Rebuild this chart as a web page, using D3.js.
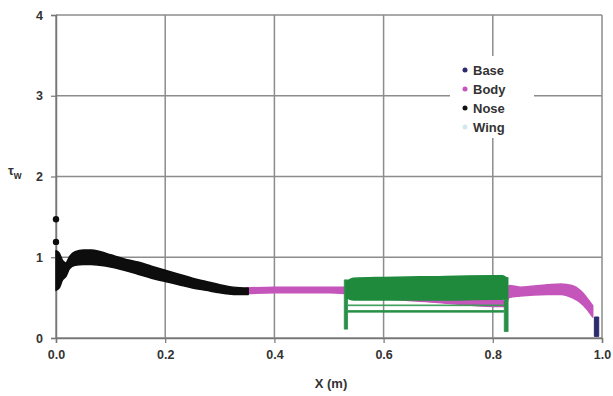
<!DOCTYPE html>
<html>
<head>
<meta charset="utf-8">
<script src="https://cdn.jsdelivr.net/npm/d3@7"></script>
<style>
  body { margin: 0; background: #fff; }
  text { font-family: "Liberation Sans", Arial, sans-serif; }
</style>
</head>
<body>
<div id="chart"></div>
<script>
// tick labels
var xTicks = [0, 0.2, 0.4, 0.6, 0.8, 1.0];
var yTicks = [0, 1, 2, 3, 4];

// Nose (black) band, x / lower / upper edge of the point cloud
var noseX  = [0.000, 0.006, 0.012, 0.018, 0.025, 0.035, 0.050, 0.065, 0.080, 0.100, 0.125, 0.150, 0.175, 0.200, 0.225, 0.250, 0.275, 0.300, 0.325, 0.352];
var noseLo = [0.59, 0.62, 0.72, 0.76, 0.86, 0.90, 0.91, 0.91, 0.90, 0.88, 0.84, 0.79, 0.74, 0.70, 0.66, 0.62, 0.59, 0.56, 0.54, 0.54];
var noseHi = [1.08, 1.05, 0.96, 0.93, 1.01, 1.07, 1.09, 1.09, 1.07, 1.03, 0.98, 0.94, 0.89, 0.84, 0.79, 0.74, 0.70, 0.66, 0.63, 0.62];
var noseDotsX = [0.0, 0.0];
var noseDotsY = [1.47, 1.19];

// Body (magenta)
var bodyX  = [0.350, 0.400, 0.450, 0.500, 0.530, 0.600, 0.700, 0.800, 0.822, 0.830, 0.850, 0.900, 0.925, 0.945, 0.960, 0.972, 0.983];
var bodyLo = [0.55, 0.56, 0.56, 0.56, 0.55, 0.49, 0.44, 0.39, 0.39, 0.50, 0.52, 0.54, 0.54, 0.50, 0.44, 0.36, 0.26];
var bodyHi = [0.62, 0.63, 0.63, 0.63, 0.63, 0.56, 0.51, 0.46, 0.46, 0.65, 0.63, 0.66, 0.67, 0.65, 0.59, 0.50, 0.40];

// Wing (green), several strands
var wingMainX  = [0.532, 0.545, 0.600, 0.700, 0.800, 0.818, 0.826];
var wingMainLo = [0.50, 0.47, 0.47, 0.47, 0.48, 0.48, 0.50];
var wingMainHi = [0.70, 0.74, 0.75, 0.76, 0.77, 0.77, 0.74];
var wingLine1X = [0.535, 0.820];
var wingLine1Lo = [0.40, 0.40];
var wingLine1Hi = [0.41, 0.41];
var wingLine2X = [0.535, 0.820];
var wingLine2Lo = [0.32, 0.32];
var wingLine2Hi = [0.34, 0.34];
var wingLeftX = [0.528, 0.534];
var wingLeftLo = [0.11, 0.11];
var wingLeftHi = [0.72, 0.72];
var wingRightX = [0.821, 0.828];
var wingRightLo = [0.08, 0.08];
var wingRightHi = [0.75, 0.75];

// Base (navy)
var baseX  = [0.986, 0.994];
var baseLo = [0.02, 0.02];
var baseHi = [0.26, 0.26];

var legendNames = ["Base", "Body", "Nose", "Wing"];
var legendColors = ["#2b2b6e", "#c455bb", "#111111", "#cfe9ee"];

var width = 613, height = 396;
var margin = {left: 56, right: 11, top: 15, bottom: 58};

var svg = d3.select("#chart").append("svg")
  .attr("width", width)
  .attr("height", height);

var x = d3.scaleLinear().domain([0, 1]).range([margin.left, width - margin.right]);
var y = d3.scaleLinear().domain([0, 4]).range([height - margin.bottom, margin.top]);

// grid
svg.append("g").selectAll("line.h").data(yTicks).enter().append("line")
  .attr("x1", x(0)).attr("x2", x(1))
  .attr("y1", function (d) { return y(d); }).attr("y2", function (d) { return y(d); })
  .attr("stroke", "#8c8c8c").attr("stroke-width", 1.5);
svg.append("g").selectAll("line.v").data(xTicks).enter().append("line")
  .attr("y1", y(0)).attr("y2", y(4))
  .attr("x1", function (d) { return x(d); }).attr("x2", function (d) { return x(d); })
  .attr("stroke", "#8c8c8c").attr("stroke-width", 1.5);

// axes
var xAxis = svg.append("g")
  .attr("transform", "translate(0," + y(0) + ")")
  .call(d3.axisBottom(x).tickValues(xTicks).tickSize(5).tickPadding(7).tickFormat(d3.format(".1f")));
var yAxis = svg.append("g")
  .attr("transform", "translate(" + x(0) + ",0)")
  .call(d3.axisLeft(y).tickValues(yTicks).tickSize(5).tickPadding(8).tickFormat(d3.format("d")));
[xAxis, yAxis].forEach(function (a) {
  a.select(".domain").attr("stroke", "#777").attr("stroke-width", 1.5);
  a.selectAll(".tick line").attr("stroke", "#777").attr("stroke-width", 1.2);
  a.selectAll(".tick text").attr("fill", "#333").style("font-size", "12.5px").style("font-weight", "bold");
});

// bands
function band(xs, lo, hi) {
  return xs.map(function (v, i) { return {x: v, lo: lo[i], hi: hi[i]}; });
}
var area = d3.area()
  .x(function (d) { return x(d.x); })
  .y0(function (d) { return y(d.lo); })
  .y1(function (d) { return y(d.hi); })
  .curve(d3.curveMonotoneX);

function drawBand(data, color, sw) {
  svg.append("path").datum(data)
    .attr("d", area)
    .attr("fill", color)
    .attr("stroke", color)
    .attr("stroke-width", sw)
    .attr("stroke-linejoin", "round");
}

drawBand(band(bodyX, bodyLo, bodyHi), "#c455bb", 1.5);
drawBand(band(noseX, noseLo, noseHi), "#0d0d0d", 1.5);
drawBand(band(wingLine1X, wingLine1Lo, wingLine1Hi), "#3a9a55", 0.8);
drawBand(band(wingLine2X, wingLine2Lo, wingLine2Hi), "#2a8f48", 0.8);
drawBand(band(wingLeftX, wingLeftLo, wingLeftHi), "#2a8f48", 0.8);
drawBand(band(wingRightX, wingRightLo, wingRightHi), "#2a8f48", 0.8);
drawBand(band(wingMainX, wingMainLo, wingMainHi), "#1f8a3c", 1.5);
drawBand(band(baseX, baseLo, baseHi), "#2b2b6e", 1);

svg.append("g").selectAll("circle").data(noseDotsX).enter().append("circle")
  .attr("cx", function (d) { return x(d); })
  .attr("cy", function (d, i) { return y(noseDotsY[i]); })
  .attr("r", 3.2)
  .attr("fill", "#0d0d0d");

// legend
var leg = svg.append("g").attr("transform", "translate(450,56)");
leg.append("rect").attr("width", 84).attr("height", 82).attr("fill", "#fff");
var items = leg.selectAll("g.item").data(legendNames).enter().append("g")
  .attr("transform", function (d, i) { return "translate(15," + (14 + i * 19) + ")"; });
items.append("circle").attr("r", 2.5)
  .attr("fill", function (d, i) { return legendColors[i]; });
items.append("text").attr("x", 8).attr("dy", "0.35em")
  .attr("fill", "#333").style("font-size", "13px").style("font-weight", "bold")
  .text(function (d) { return d; });

// axis titles
svg.append("text").attr("x", 331).attr("y", 388)
  .attr("text-anchor", "middle").attr("fill", "#333")
  .style("font-size", "13px").style("font-weight", "bold")
  .text("X (m)");
var yt = svg.append("text").attr("x", 8).attr("y", 175)
  .attr("fill", "#333").style("font-size", "13px").style("font-weight", "bold");
yt.append("tspan").text("τ");
yt.append("tspan").attr("dy", 4).style("font-size", "10px").text("w");
</script>
</body>
</html>
